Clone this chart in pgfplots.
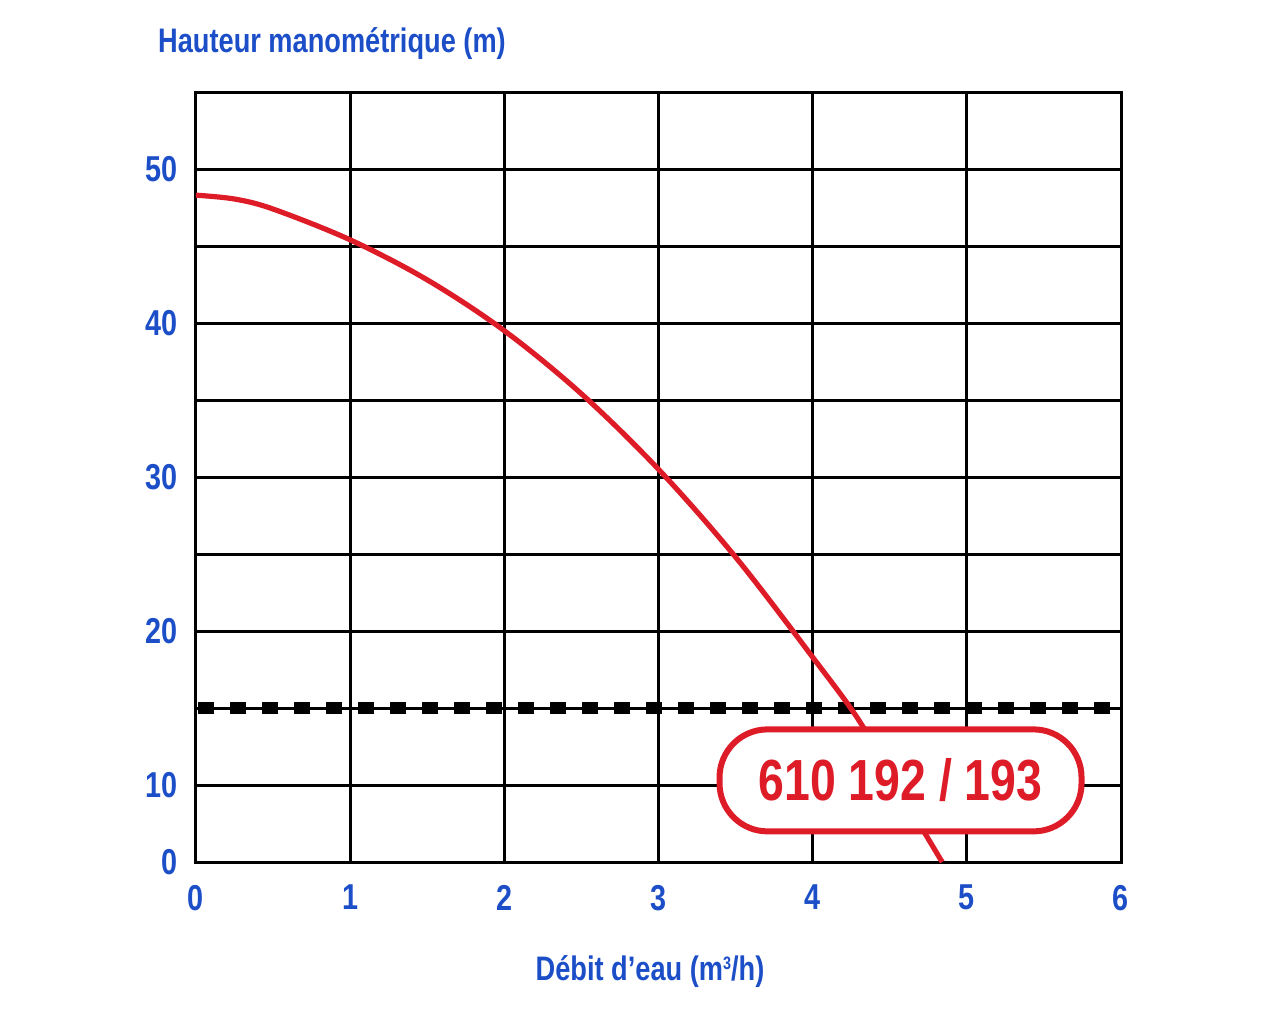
\documentclass[border=0pt]{standalone}
\usepackage{fontspec}
\setmainfont{Liberation Sans}[FakeStretch=0.8]
\usepackage{pgfplots}
\pgfplotsset{compat=1.18}
\definecolor{lblue}{RGB}{28,78,200}
\definecolor{cred}{RGB}{222,28,40}
\begin{document}
\begin{tikzpicture}
\useasboundingbox (-98pt,-81pt) rectangle (542pt,431pt);
\begin{axis}[
  at={(0,0)}, anchor=south west,
  scale only axis, width=462.5pt, height=385pt,
  xmin=0, xmax=6, ymin=0, ymax=55,
  y coord trafo/.code={\pgfmathparse{#1<10 ? #1/10 : (#1-5)/5}},
  y coord inv trafo/.code={\pgfmathparse{#1<1 ? #1*10 : #1*5+5}},
  xtick={0,1,2,3,4,5,6},
  ytick={0,10,20,30,40,50},
  yticklabels={0,10,20,30,40,50},
  minor ytick={15,25,35,45},
  grid=both,
  major grid style={black, line width=1.5pt},
  minor grid style={black, line width=1.5pt},
  axis line style={black, line width=1.5pt},
  major tick length=0pt, minor tick length=0pt,
  /pgf/number format/assume math mode=true,
  ticklabel style={font=\bfseries\fontsize{18}{20}\selectfont, text=lblue},
  xticklabel style={yshift=-8pt},
  yticklabel style={xshift=-5.5pt},
  clip=false,
]
\addplot[black, line width=1pt] coordinates {(0,15) (6,15)};
\addplot[black, line width=6pt, dash pattern=on 8pt off 8pt, dash phase=-1pt] coordinates {(0,15) (6,15)};
\addplot[cred, line width=2.6pt, smooth, tension=0.55] coordinates {
 (0,48.3) (0.25,48.05) (0.5,47.4) (1,45.4) (1.5,42.8) (2,39.5)
 (2.5,35.4) (3,30.5) (3.5,24.8) (4,18.3) (4.3,14.2) (4.54,10)
};
\addplot[cred, line width=2.6pt] coordinates {(4.54,10) (4.84,0)};
\node[draw=cred, line width=3pt, fill=white, rounded corners=24pt,
  minimum width=181pt, minimum height=51pt, inner sep=0pt,
  text=cred, font=\bfseries\fontsize{29}{32}\selectfont]
  at (axis cs:4.57,10.3) {610 192 / 193};
\end{axis}
\node[text=lblue, font=\bfseries\fontsize{17}{20}\selectfont] at (68pt,409pt) {Hauteur manométrique (m)};
\node[text=lblue, font=\bfseries\fontsize{17}{20}\selectfont] at (227pt,-55pt) {Débit d’eau (m\raisebox{0.62ex}{\fontsize{9}{9}\selectfont 3}/h)};
\end{tikzpicture}
\end{document}
